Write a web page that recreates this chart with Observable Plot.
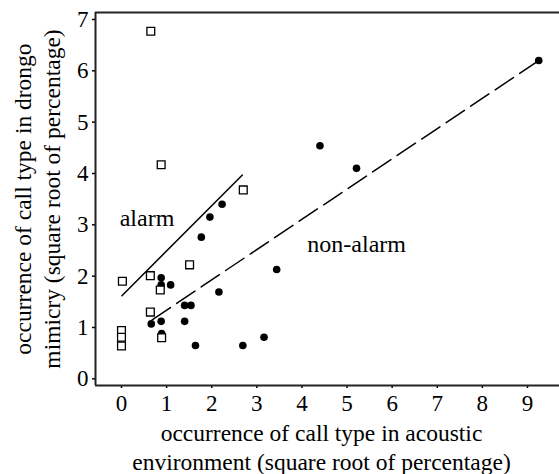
<!DOCTYPE html>
<html>
<head>
<meta charset="utf-8">
<script src="https://cdn.jsdelivr.net/npm/d3@7"></script>
<script src="https://cdn.jsdelivr.net/npm/@observablehq/plot@0.6"></script>
<style>
  html, body { margin: 0; padding: 0; background: white; }
  svg text { font-family: "Liberation Serif", "Times New Roman", serif; }
</style>
</head>
<body>
<div id="chart"></div>
<script>
// Non-alarm call types (filled circles)
const nonAlarmX = [2.23, 1.96, 1.77, 0.88, 0.88, 1.09, 1.40, 1.54, 2.16, 3.44, 0.66, 0.88, 1.40, 0.89, 1.64, 2.69, 3.16, 4.40, 5.21, 9.25];
const nonAlarmY = [3.40, 3.15, 2.76, 1.97, 1.83, 1.83, 1.43, 1.43, 1.69, 2.13, 1.07, 1.12, 1.12, 0.88, 0.65, 0.65, 0.81, 4.54, 4.10, 6.20];
// Alarm call types (open squares)
const alarmX = [0.65, 0.88, 2.70, 0.02, 0.64, 1.51, 0.86, 0.64, 0.0, 0.0, 0.0, 0.89];
const alarmY = [6.77, 4.17, 3.68, 1.90, 2.01, 2.22, 1.73, 1.30, 0.94, 0.81, 0.64, 0.80];
// Regression lines (endpoints)
const alarmLineX = [0.01, 2.68];
const alarmLineY = [1.62, 3.97];
const nonAlarmLineX = [0.68, 9.25];
const nonAlarmLineY = [1.15, 6.20];
// Ticks
const xTicks = [0, 1, 2, 3, 4, 5, 6, 7, 8, 9];
const yTicks = [0, 1, 2, 3, 4, 5, 6, 7];
// Labels
const groupLabels = ["alarm", "non-alarm"];
const groupLabelX = [-0.04, 4.12];
const groupLabelY = [2.97, 2.47];
const xTitle = ["occurrence of call type in acoustic", "environment (square root of percentage)"];
const yTitle = ["occurrence of call type in drongo", "mimicry (square root of percentage)"];

const nonAlarm = nonAlarmX.map((x, i) => ({x, y: nonAlarmY[i]}));
const alarm = alarmX.map((x, i) => ({x, y: alarmY[i]}));
const alarmLine = alarmLineX.map((x, i) => ({x, y: alarmLineY[i]}));
const nonAlarmLine = nonAlarmLineX.map((x, i) => ({x, y: nonAlarmLineY[i]}));
const labels = groupLabels.map((t, i) => ({t, x: groupLabelX[i], y: groupLabelY[i]}));

const xDomain = [-0.576, 9.71];
const yDomain = [-0.13, 7.136];
const font = "'Liberation Serif', 'Times New Roman', serif";

const chart = Plot.plot({
  width: 559,
  height: 474,
  marginTop: 12,
  marginBottom: 89,
  marginLeft: 95,
  marginRight: 0,
  style: {fontFamily: font, fontSize: "23px", color: "black", background: "white"},
  x: {domain: xDomain},
  y: {domain: yDomain},
  marks: [
    Plot.axisX({ticks: xTicks, tickSize: 3, tickPadding: 6, tickFormat: d => String(d), label: null, fontSize: 23, fontFamily: font, strokeWidth: 1.5}),
    Plot.axisY({ticks: yTicks, tickSize: 3, tickPadding: 4, tickFormat: d => String(d), label: null, fontSize: 23, fontFamily: font, strokeWidth: 1.5}),
    Plot.ruleY([yDomain[0]], {stroke: "#222", strokeWidth: 2}),
    Plot.ruleY([yDomain[1]], {stroke: "#222", strokeWidth: 2}),
    Plot.ruleX([xDomain[0]], {stroke: "#222", strokeWidth: 2}),
    Plot.line(alarmLine, {x: "x", y: "y", stroke: "black", strokeWidth: 1.5}),
    Plot.line(nonAlarmLine, {x: "x", y: "y", stroke: "black", strokeWidth: 1.5, strokeDasharray: "22,7.5"}),
    Plot.dot(nonAlarm, {x: "x", y: "y", r: 3.8, fill: "black", stroke: "none"}),
    Plot.dot(alarm, {x: "x", y: "y", symbol: "square", r: 4.4, fill: "white", stroke: "black", strokeWidth: 1.3}),
    Plot.text(labels, {x: "x", y: "y", text: "t", textAnchor: "start", lineAnchor: "bottom", fontSize: 24, fontFamily: font, fill: "black"}),
    Plot.text([xTitle[0]], {text: d => d, frameAnchor: "bottom", textAnchor: "middle", dx: -6, dy: 55, lineAnchor: "bottom", fontSize: 23.5, fontFamily: font, fill: "black"}),
    Plot.text([xTitle[1]], {text: d => d, frameAnchor: "bottom", textAnchor: "middle", dx: -6, dy: 84, lineAnchor: "bottom", fontSize: 23.5, fontFamily: font, fill: "black"}),
    Plot.text([yTitle[0]], {text: d => d, frameAnchor: "left", textAnchor: "middle", dx: -65, rotate: -90, lineAnchor: "bottom", fontSize: 23.5, fontFamily: font, fill: "black"}),
    Plot.text([yTitle[1]], {text: d => d, frameAnchor: "left", textAnchor: "middle", dx: -36, rotate: -90, lineAnchor: "bottom", fontSize: 23.5, fontFamily: font, fill: "black"})
  ]
});
document.getElementById("chart").appendChild(chart);
</script>
</body>
</html>
